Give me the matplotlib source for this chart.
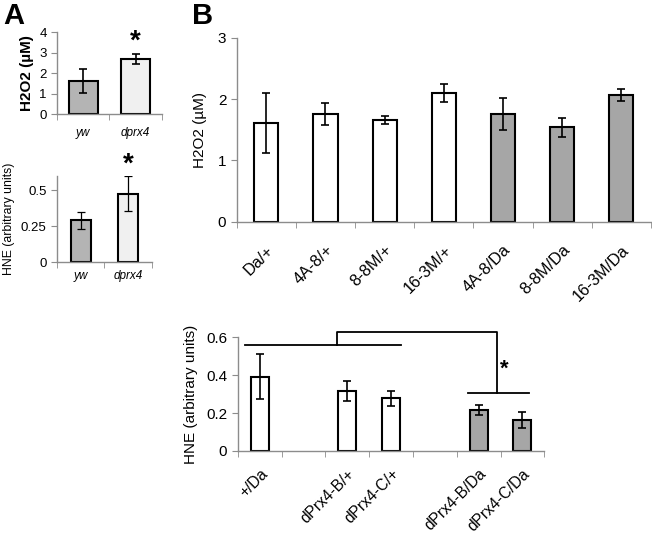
import numpy as np
import matplotlib
matplotlib.use("Agg")
import matplotlib.pyplot as plt

plt.rcParams['font.family'] = ['Liberation Sans', 'DejaVu Sans']

# Panel A data
a_groups = ["yw", "dprx4"]
a_h2o2 = [1.6, 2.7]
a_h2o2_err = [0.58, 0.24]
a_hne = [0.29, 0.475]
a_hne_err = [0.062, 0.122]
a_colors = ["#b4b4b4", "#f0f0f0"]

# Panel B top data
b_groups = ["Da/+", "4A-8/+", "8-8M/+", "16-3M/+", "4A-8/Da", "8-8M/Da", "16-3M/Da"]
b_h2o2 = [1.61, 1.75, 1.66, 2.10, 1.76, 1.54, 2.07]
b_h2o2_err = [0.49, 0.18, 0.07, 0.14, 0.26, 0.155, 0.10]
b_fill = ["white"] * 4 + ["#a6a6a6"] * 3

# Panel B bottom data (empty slots are gaps)
c_groups = ["+/Da", "", "dPrx4-B/+", "dPrx4-C/+", "", "dPrx4-B/Da", "dPrx4-C/Da"]
c_hne = [0.392, 0, 0.317, 0.278, 0, 0.215, 0.164]
c_hne_err = [0.118, 0, 0.053, 0.04, 0, 0.025, 0.042]
c_fill = ["white", "none", "white", "white", "none", "#a6a6a6", "#a6a6a6"]

SPINE = "#8c8c8c"


def style(ax, n):
    for s in ["top", "right"]:
        ax.spines[s].set_visible(False)
    for s in ["left", "bottom"]:
        ax.spines[s].set_color(SPINE)
        ax.spines[s].set_linewidth(1.0)
    ax.set_xlim(-0.5, n - 0.5)
    ax.set_xticks(np.arange(n + 1) - 0.5, minor=True)
    ax.tick_params(axis="x", which="major", length=0)
    ax.tick_params(axis="x", which="minor", length=4, color=SPINE)
    ax.tick_params(axis="y", length=4, color=SPINE)


fig = plt.figure(figsize=(6.52, 5.41), dpi=100)

# ---- A top
ax1 = fig.add_axes([0.0874, 0.789, 0.161, 0.1516])
x = np.arange(len(a_groups))
ax1.bar(x, a_h2o2, width=0.55, color=a_colors, edgecolor="black", linewidth=1.5)
ax1.errorbar(x, a_h2o2, yerr=a_h2o2_err, fmt="none", ecolor="black", elinewidth=1.2, capsize=3, capthick=1.2)
style(ax1, len(a_groups))
ax1.set_ylim(0, 4)
ax1.set_yticks([0, 1, 2, 3, 4])
ax1.tick_params(axis="y", labelsize=9.5)
ax1.set_xticks(x)
ax1.set_xticklabels(a_groups, style="italic", fontsize=8.5)
ax1.tick_params(axis="x", which="major", pad=9)
ax1.set_ylabel("H2O2 (µM)", fontsize=11, fontweight="bold", labelpad=4)
ax1.text(x[1], 3.55, "*", ha="center", va="center", fontsize=20, fontweight="bold")

# ---- A bottom
ax2 = fig.add_axes([0.0874, 0.5157, 0.1457, 0.159])
ax2.bar(x, a_hne, width=0.42, color=a_colors, edgecolor="black", linewidth=1.5)
ax2.errorbar(x, a_hne, yerr=a_hne_err, fmt="none", ecolor="black", elinewidth=0.9, capsize=3, capthick=0.9)
style(ax2, len(a_groups))
ax2.set_ylim(0, 0.6)
ax2.set_yticks([0, 0.25, 0.5])
ax2.set_yticklabels(["0", "0.25", "0.5"])
ax2.tick_params(axis="y", labelsize=9.5)
ax2.set_xticks(x)
ax2.set_xticklabels(a_groups, style="italic", fontsize=8.5)
ax2.tick_params(axis="x", which="major", pad=6)
ax2.set_ylabel("HNE (arbitrary units)", fontsize=8.8, labelpad=4)
ax2.text(x[1], 0.68, "*", ha="center", va="center", fontsize=20, fontweight="bold", clip_on=False)

# ---- B top
ax3 = fig.add_axes([0.363, 0.5902, 0.6354, 0.340])
xb = np.arange(len(b_groups))
ax3.bar(xb, b_h2o2, width=0.41, color=b_fill, edgecolor="black", linewidth=1.5)
ax3.errorbar(xb, b_h2o2, yerr=b_h2o2_err, fmt="none", ecolor="black", elinewidth=1.2, capsize=3, capthick=1.2)
style(ax3, len(b_groups))
ax3.set_ylim(0, 3)
ax3.set_yticks([0, 1, 2, 3])
ax3.tick_params(axis="y", labelsize=11)
ax3.set_xticks(xb)
ax3.set_xticklabels(b_groups, rotation=45, ha="right", va="top", rotation_mode="anchor", fontsize=11.8)
ax3.tick_params(axis="x", which="major", pad=15)
ax3.set_ylabel("H2O2 (µM)", fontsize=11, labelpad=8)

# ---- B bottom
ax4 = fig.add_axes([0.3646, 0.1664, 0.4703, 0.2102])
xc = np.arange(len(c_groups))
ax4.bar(xc, c_hne, width=0.41, color=c_fill,
        edgecolor=["black" if f != "none" else "none" for f in c_fill], linewidth=1.5)
keep = [i for i, f in enumerate(c_fill) if f != "none"]
ax4.errorbar(xc[keep], np.array(c_hne)[keep], yerr=np.array(c_hne_err)[keep], fmt="none",
             ecolor="black", elinewidth=1.2, capsize=3, capthick=1.2)
style(ax4, len(c_groups))
ax4.set_ylim(0, 0.6)
ax4.set_yticks([0, 0.2, 0.4, 0.6])
ax4.set_yticklabels(["0", "0.2", "0.4", "0.6"])
ax4.tick_params(axis="y", labelsize=11)
ax4.set_xticks(xc)
ax4.set_xticklabels(c_groups, rotation=45, ha="right", va="top", rotation_mode="anchor", fontsize=11.2)
ax4.tick_params(axis="x", which="major", pad=11)
ax4.set_ylabel("HNE (arbitrary units)", fontsize=11, labelpad=6)

# significance brackets
low_y, high_y, right_y = 0.559, 0.63, 0.304
lk = dict(color="black", lw=1.3, clip_on=False)
ax4.plot([xc[0] - 0.33, xc[3] + 0.22], [low_y, low_y], **lk)
ax4.plot([1.77, 1.77, 5.43, 5.43], [low_y, high_y, high_y, right_y], **lk)
ax4.plot([xc[5] - 0.25, xc[6] + 0.15], [right_y, right_y], **lk)
ax4.text(5.58, 0.43, "*", ha="center", va="center", fontsize=16, fontweight="bold")

fig.text(0.005, 0.997, "A", fontsize=21, fontweight="bold", va="top", ha="left")
fig.text(0.294, 0.997, "B", fontsize=21, fontweight="bold", va="top", ha="left")

fig.savefig("out.png", dpi=100)
